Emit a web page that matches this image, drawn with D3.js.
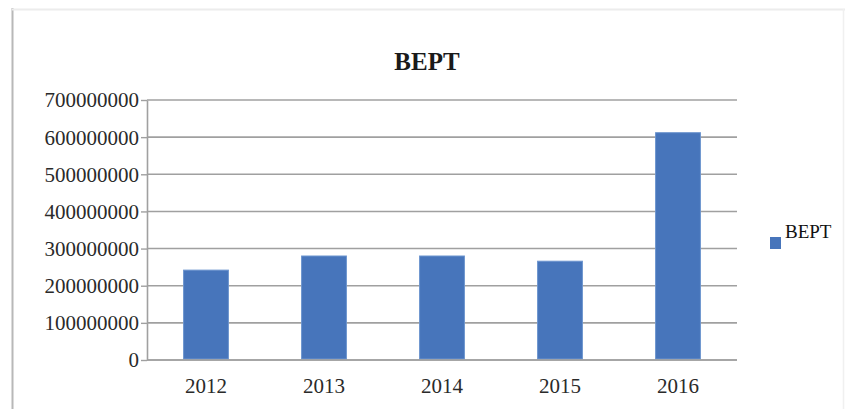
<!DOCTYPE html>
<html>
<head>
<meta charset="utf-8">
<script src="https://cdn.jsdelivr.net/npm/d3@7"></script>
<style>
  html, body { margin: 0; padding: 0; background: #fff; }
  svg { display: block; }
  svg text { font-family: "Liberation Serif", "Times New Roman", Times, "DejaVu Serif", "Noto Serif", serif; }
</style>
</head>
<body>
<svg id="chart" width="845" height="409"></svg>
<script>
// Chart data
const categories = ["2012", "2013", "2014", "2015", "2016"];
const seriesName = "BEPT";
const values = [242000000, 280000000, 280000000, 266000000, 612000000];
const yTicks = [0, 100000000, 200000000, 300000000, 400000000, 500000000, 600000000, 700000000];

const svg = d3.select("#chart");
const W = 845, H = 409;
const plot = { left: 147, right: 737, top: 100, bottom: 360 };
const barColor = "#4775bb";
const gridColor = "#a0a0a0";
const serif = '"Liberation Serif", "Times New Roman", Times, "DejaVu Serif", serif';

// Outer frame (left edge and faint top/right edges)
svg.append("line").attr("x1", 12.5).attr("x2", 12.5).attr("y1", 8).attr("y2", H)
  .attr("stroke", "#b8b8b8").attr("stroke-width", 2);
svg.append("line").attr("x1", 12).attr("x2", W).attr("y1", 9.5).attr("y2", 9.5)
  .attr("stroke", "#ececec").attr("stroke-width", 2);
svg.append("line").attr("x1", 843.5).attr("x2", 843.5).attr("y1", 9).attr("y2", H)
  .attr("stroke", "#f0f0f0").attr("stroke-width", 1.5);

const x = d3.scaleBand().domain(categories).range([plot.left, plot.right]).paddingInner(0.62).paddingOuter(0.31);
const y = d3.scaleLinear().domain([0, 700000000]).range([plot.bottom, plot.top]);

// Horizontal gridlines
svg.append("g").selectAll("line").data(yTicks).join("line")
  .attr("x1", plot.left).attr("x2", plot.right)
  .attr("y1", d => y(d)).attr("y2", d => y(d))
  .attr("stroke", gridColor).attr("stroke-width", 1.6);

// Bars
svg.append("g").selectAll("rect").data(values).join("rect")
  .attr("x", (d, i) => x(categories[i]))
  .attr("width", x.bandwidth())
  .attr("y", d => y(d))
  .attr("height", d => y(0) - y(d) - 1)
  .attr("fill", barColor)
  .attr("stroke", "#6d95cf").attr("stroke-width", 1);

// Y axis
const yAxis = svg.append("g").attr("transform", `translate(${plot.left},0)`)
  .call(d3.axisLeft(y).tickValues(yTicks).tickFormat(d3.format("d")).tickSize(6).tickSizeOuter(0));
yAxis.attr("font-family", null).attr("font-size", null);
yAxis.select(".domain").attr("stroke", gridColor).attr("stroke-width", 1.6);
yAxis.selectAll(".tick line").attr("stroke", gridColor).attr("stroke-width", 1.4);
yAxis.selectAll(".tick text")
  .style("font-family", serif).style("font-size", "21px").attr("fill", "#2a2a2a")
  .attr("x", -8).attr("dy", "0.33em");

// X axis
const xAxis = svg.append("g").attr("transform", `translate(0,${plot.bottom})`)
  .call(d3.axisBottom(x).tickSize(0).tickSizeOuter(0));
xAxis.attr("font-family", null).attr("font-size", null);
xAxis.select(".domain").attr("stroke", gridColor).attr("stroke-width", 1.6)
  .attr("d", `M${plot.left},0H${plot.right}`);
xAxis.selectAll(".tick text")
  .style("font-family", serif).style("font-size", "21px").attr("fill", "#2a2a2a")
  .attr("y", 18).attr("dy", "0.71em");

// Title
svg.append("text").attr("x", 427).attr("y", 70).attr("text-anchor", "middle")
  .style("font-family", serif).style("font-size", "25px").style("font-weight", "bold")
  .attr("fill", "#1a1a1a").text(seriesName);

// Legend
const legend = svg.append("g").attr("transform", "translate(770,237)");
legend.append("rect").attr("width", 11).attr("height", 12).attr("fill", barColor);
legend.append("text").attr("x", 15).attr("y", 1)
  .style("font-family", serif).style("font-size", "19px")
  .attr("fill", "#111").text(seriesName);
</script>
</body>
</html>
